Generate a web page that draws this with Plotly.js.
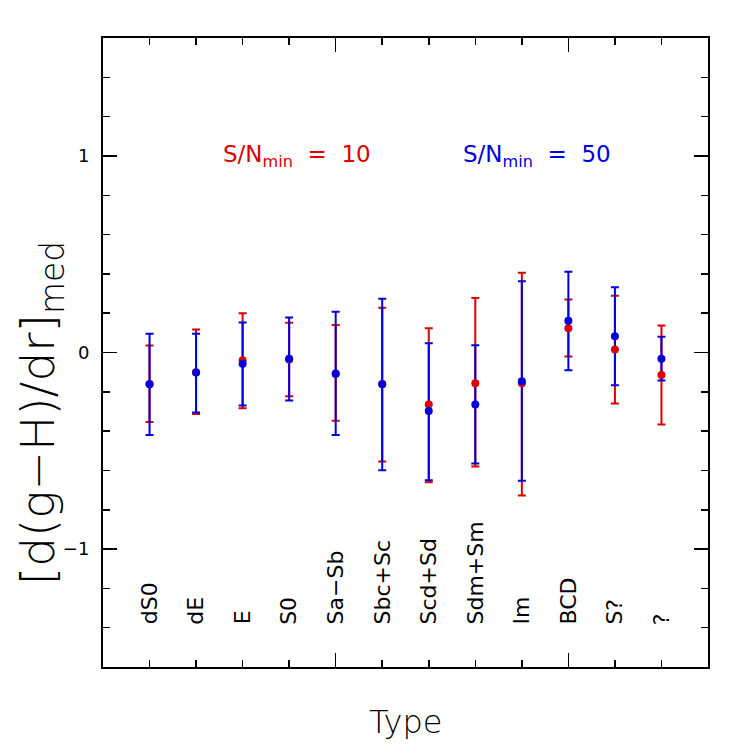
<!DOCTYPE html>
<html>
<head>
<meta charset="utf-8">
<script src="https://cdn.plot.ly/plotly-3.0.1.min.js"></script>
<style>
html,body{margin:0;padding:0;background:#fff;}
#chart{width:747px;height:747px;}
</style>
</head>
<body>
<div id="chart"></div>
<script>
// Morphological types
const categories = ['dS0','dE','E','S0','Sa\u2212Sb','Sbc+Sc','Scd+Sd','Sdm+Sm','Im','BCD','S?','?'];

// S/N_min = 10 (red): median, upper end, lower end
const med10 = [-0.16, -0.10, -0.04, -0.035, -0.11, -0.16, -0.264, -0.157, -0.157, 0.124, 0.015, -0.115];
const hi10  = [0.036, 0.117, 0.200, 0.151, 0.140, 0.228, 0.123, 0.277, 0.406, 0.269, 0.289, 0.137];
const lo10  = [-0.354, -0.313, -0.283, -0.222, -0.347, -0.555, -0.660, -0.580, -0.728, -0.020, -0.260, -0.366];

// S/N_min = 50 (blue)
const med50 = [-0.161, -0.102, -0.057, -0.032, -0.107, -0.162, -0.298, -0.264, -0.146, 0.161, 0.083, -0.032];
const hi50  = [0.096, 0.095, 0.152, 0.178, 0.207, 0.274, 0.047, 0.037, 0.362, 0.411, 0.332, 0.080];
const lo50  = [-0.420, -0.305, -0.269, -0.244, -0.420, -0.599, -0.650, -0.565, -0.653, -0.090, -0.166, -0.142];

const yTickVals = [-1, 0, 1];
const majorX = [5, 10];

const RED = '#dd0000';
const BLUE = '#0000dd';
const FONT = 'DejaVu Sans, Liberation Sans, sans-serif';

const xpos = categories.map((c, i) => i + 1);

function errTrace(med, hi, lo, color) {
  return {
    x: xpos, y: med, type: 'scatter', mode: 'markers',
    marker: {size: 8, color: 'rgba(0,0,0,0)'},
    error_y: {
      type: 'data', symmetric: false,
      array: hi.map((h, i) => h - med[i]),
      arrayminus: lo.map((l, i) => med[i] - l),
      color: color, thickness: 2, width: 4
    },
    hoverinfo: 'skip', showlegend: false
  };
}
function ptTrace(med, color) {
  return {
    x: xpos, y: med, type: 'scatter', mode: 'markers',
    marker: {size: 8, color: color},
    showlegend: false
  };
}

const data = [
  errTrace(med10, hi10, lo10, RED),
  errTrace(med50, hi50, lo50, BLUE),
  ptTrace(med10, RED),
  ptTrace(med50, BLUE)
];

const annotations = categories.map((c, i) => ({
  x: i + 1, y: -1.395, xref: 'x', yref: 'y',
  text: c, showarrow: false, textangle: -90,
  xanchor: 'center', yanchor: 'bottom',
  font: {family: FONT, size: 22, color: '#000'}
}));

annotations.push({
  x: 4.16, y: 1.0, xref: 'x', yref: 'y', showarrow: false,
  text: 'S/N<sub>min</sub>\u00a0 = \u00a010', xanchor: 'center', yanchor: 'middle',
  font: {family: FONT, size: 23, color: RED}
});
annotations.push({
  x: 9.33, y: 1.0, xref: 'x', yref: 'y', showarrow: false,
  text: 'S/N<sub>min</sub>\u00a0 = \u00a050', xanchor: 'center', yanchor: 'middle',
  font: {family: FONT, size: 23, color: BLUE}
});
annotations.push({
  x: -0.102, y: 0.404, xref: 'paper', yref: 'paper', showarrow: false,
  text: '[d(g\u2212H)/dr]<sub>med</sub>', textangle: -90,
  xanchor: 'center', yanchor: 'middle',
  font: {family: FONT, size: 47, color: '#000', weight: 200}
});
annotations.push({
  x: 0.5, y: -0.088, xref: 'paper', yref: 'paper', showarrow: false,
  text: 'Type', xanchor: 'center', yanchor: 'middle',
  font: {family: FONT, size: 32, color: '#000', weight: 200}
});

const layout = {
  width: 747, height: 747,
  margin: {l: 103, r: 39, t: 38, b: 80},
  paper_bgcolor: '#fff', plot_bgcolor: '#fff',
  showlegend: false,
  xaxis: {
    range: [0, 13], showgrid: false, zeroline: false,
    showline: true, linewidth: 2, linecolor: '#000', mirror: 'ticks',
    ticks: 'inside', tickmode: 'array', tickvals: majorX, ticklen: 14, tickwidth: 1.5, tickcolor: '#000',
    showticklabels: false,
    minor: {tickmode: 'array', tickvals: xpos, ticks: 'inside', ticklen: 7, tickwidth: 1.5, tickcolor: '#000'}
  },
  yaxis: {
    range: [-1.6, 1.6], showgrid: false, zeroline: false,
    showline: true, linewidth: 2, linecolor: '#000', mirror: 'ticks',
    ticks: 'inside', tickmode: 'array', tickvals: yTickVals, ticklen: 14, tickwidth: 1.5, tickcolor: '#000',
    tickfont: {family: FONT, size: 18, color: '#000'},
    ticklabelstandoff: 8,
    minor: {dtick: 0.2, tick0: 0, ticks: 'inside', ticklen: 7, tickwidth: 1.5, tickcolor: '#000'}
  },
  annotations: annotations
};

Plotly.newPlot('chart', data, layout, {staticPlot: true, displayModeBar: false});
</script>
</body>
</html>
